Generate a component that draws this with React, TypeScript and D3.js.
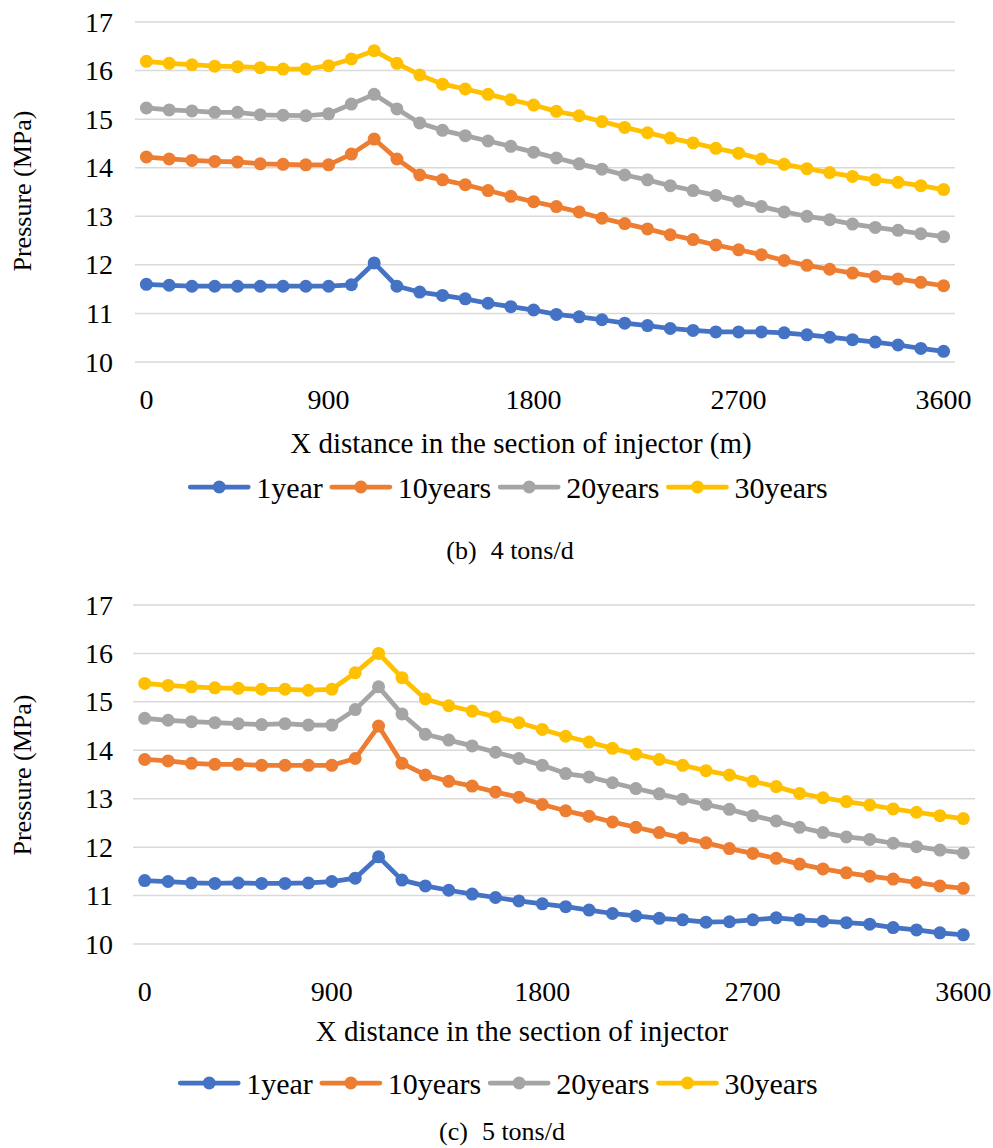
import React, { useEffect, useRef } from "react";
import * as d3 from "d3";

// X categories: distance along the injector section (m)
const distances = [0, 200, 300, 400, 500, 600, 700, 800, 900, 1000, 1100, 1200, 1300, 1400, 1500, 1600, 1700, 1800, 1900, 2000, 2100, 2200, 2300, 2400, 2500, 2600, 2700, 2800, 2900, 3000, 3100, 3200, 3300, 3400, 3500, 3600];
const xTickLabels = [0, 900, 1800, 2700, 3600];
const yTicks = [10, 11, 12, 13, 14, 15, 16, 17];
const seriesNames = ["1year", "10years", "20years", "30years"];
const seriesColors = ["#4472C4", "#ED7D31", "#A5A5A5", "#FFC000"];

// (b) 4 tons/d
const b1year = [11.60, 11.58, 11.56, 11.56, 11.56, 11.56, 11.56, 11.56, 11.56, 11.59, 12.04, 11.56, 11.44, 11.37, 11.30, 11.21, 11.14, 11.07, 10.98, 10.93, 10.87, 10.80, 10.75, 10.69, 10.65, 10.62, 10.62, 10.62, 10.60, 10.56, 10.51, 10.46, 10.41, 10.35, 10.28, 10.22];
const b10years = [14.22, 14.18, 14.15, 14.13, 14.12, 14.08, 14.07, 14.06, 14.06, 14.28, 14.59, 14.18, 13.85, 13.75, 13.65, 13.53, 13.41, 13.30, 13.20, 13.09, 12.96, 12.85, 12.74, 12.62, 12.52, 12.41, 12.31, 12.21, 12.09, 11.99, 11.91, 11.83, 11.76, 11.71, 11.64, 11.57];
const b20years = [15.23, 15.19, 15.17, 15.14, 15.14, 15.09, 15.08, 15.07, 15.11, 15.31, 15.51, 15.21, 14.92, 14.77, 14.66, 14.55, 14.44, 14.32, 14.20, 14.08, 13.97, 13.85, 13.75, 13.63, 13.53, 13.43, 13.31, 13.20, 13.09, 13.00, 12.93, 12.84, 12.77, 12.71, 12.64, 12.58];
const b30years = [16.19, 16.15, 16.12, 16.09, 16.08, 16.06, 16.03, 16.03, 16.10, 16.24, 16.41, 16.15, 15.91, 15.72, 15.62, 15.51, 15.40, 15.29, 15.16, 15.07, 14.95, 14.83, 14.72, 14.61, 14.51, 14.40, 14.30, 14.18, 14.07, 13.98, 13.90, 13.82, 13.75, 13.70, 13.63, 13.55];

// (c) 5 tons/d
const c1year = [11.31, 11.29, 11.26, 11.25, 11.26, 11.25, 11.25, 11.26, 11.29, 11.36, 11.80, 11.32, 11.20, 11.11, 11.03, 10.96, 10.89, 10.83, 10.77, 10.70, 10.63, 10.58, 10.53, 10.50, 10.45, 10.46, 10.50, 10.54, 10.50, 10.47, 10.44, 10.41, 10.34, 10.29, 10.23, 10.19];
const c10years = [13.81, 13.78, 13.73, 13.71, 13.71, 13.69, 13.69, 13.69, 13.69, 13.83, 14.50, 13.73, 13.49, 13.36, 13.26, 13.14, 13.03, 12.88, 12.75, 12.64, 12.52, 12.41, 12.30, 12.19, 12.09, 11.97, 11.87, 11.77, 11.65, 11.55, 11.47, 11.40, 11.34, 11.27, 11.20, 11.15];
const c20years = [14.66, 14.62, 14.59, 14.57, 14.55, 14.53, 14.55, 14.52, 14.52, 14.84, 15.31, 14.75, 14.33, 14.21, 14.09, 13.96, 13.83, 13.69, 13.52, 13.45, 13.33, 13.21, 13.10, 12.99, 12.88, 12.78, 12.65, 12.54, 12.41, 12.30, 12.21, 12.16, 12.08, 12.01, 11.94, 11.88];
const c30years = [15.38, 15.34, 15.31, 15.29, 15.28, 15.26, 15.26, 15.24, 15.26, 15.60, 16.00, 15.50, 15.06, 14.92, 14.81, 14.69, 14.57, 14.43, 14.29, 14.17, 14.04, 13.92, 13.81, 13.69, 13.58, 13.49, 13.36, 13.25, 13.11, 13.02, 12.94, 12.87, 12.79, 12.72, 12.65, 12.59];

const FONT = '"Liberation Serif", Tinos, "Times New Roman", "Nimbus Roman", "DejaVu Serif", serif';

const panels = [
  {
    left: 135, right: 955, top: 22, bottom: 362,
    tickLabelY: 399,
    xTitle: "X distance in the section of injector (m)", xTitleX: 521, xTitleY: 443,
    legendCX: 509, legendY: 487,
    captionTag: "(b)", captionText: "4 tons/d", captionX: 510, captionY: 550,
    yTitleY: 191,
    series: [b1year, b10years, b20years, b30years],
  },
  {
    left: 133, right: 975, top: 605, bottom: 944,
    tickLabelY: 991,
    xTitle: "X distance in the section of injector", xTitleX: 522, xTitleY: 1031,
    legendCX: 499, legendY: 1083,
    captionTag: "(c)", captionText: "5 tons/d", captionX: 502, captionY: 1131,
    yTitleY: 775,
    series: [c1year, c10years, c20years, c30years],
  },
];

export default function App() {
  const ref = useRef<SVGSVGElement>(null);

  useEffect(() => {
    const svg = d3.select(ref.current);
    svg.selectAll("*").remove();
    svg.style("font-family", FONT);

    panels.forEach((p) => {
      const g = svg.append("g").style("font-family", FONT);
      const x = d3.scalePoint<number>().domain(distances).range([p.left, p.right]).padding(0.5);
      const y = d3.scaleLinear().domain([10, 17]).range([p.bottom, p.top]);

      g.selectAll("line.grid").data(yTicks).join("line")
        .attr("x1", p.left).attr("x2", p.right)
        .attr("y1", (d) => y(d)).attr("y2", (d) => y(d))
        .attr("stroke", "#D9D9D9").attr("stroke-width", 1.5);

      g.selectAll("text.yt").data(yTicks).join("text")
        .attr("x", 113).attr("y", (d) => y(d))
        .attr("text-anchor", "end").attr("dominant-baseline", "central")
        .style("font-size", "28px").attr("fill", "#000")
        .text((d) => String(d));

      g.selectAll("text.xt").data(xTickLabels).join("text")
        .attr("x", (d) => x(d) as number).attr("y", p.tickLabelY)
        .attr("text-anchor", "middle").attr("dominant-baseline", "central")
        .style("font-size", "28px").attr("fill", "#000")
        .text((d) => String(d));

      g.append("text")
        .attr("transform", `translate(22,${p.yTitleY}) rotate(-90)`)
        .attr("text-anchor", "middle").attr("dominant-baseline", "central")
        .style("font-size", "26px")
        .text("Pressure (MPa)");

      g.append("text")
        .attr("x", p.xTitleX).attr("y", p.xTitleY)
        .attr("text-anchor", "middle").attr("dominant-baseline", "central")
        .style("font-size", "29px")
        .text(p.xTitle);

      const line = d3.line<number>().x((_, i) => x(distances[i]) as number).y((d) => y(d));
      p.series.forEach((vals, si) => {
        g.append("path").datum(vals)
          .attr("d", line).attr("fill", "none")
          .attr("stroke", seriesColors[si]).attr("stroke-width", 4.75)
          .attr("stroke-linejoin", "round").attr("stroke-linecap", "round");
        g.selectAll(`circle.s${si}`).data(vals).join("circle")
          .attr("cx", (_, i) => x(distances[i]) as number).attr("cy", (d) => y(d))
          .attr("r", 6.5).attr("fill", seriesColors[si]);
      });

      const lg = g.append("g");
      let cursor = 0;
      const lineLen = 58;
      const gap = 8;
      const itemGap = 9;
      seriesNames.forEach((name, si) => {
        const item = lg.append("g").attr("transform", `translate(${cursor},0)`);
        item.append("line").attr("x1", 0).attr("x2", lineLen).attr("y1", 0).attr("y2", 0)
          .attr("stroke", seriesColors[si]).attr("stroke-width", 4.75).attr("stroke-linecap", "round");
        item.append("circle").attr("cx", lineLen / 2).attr("cy", 0).attr("r", 6.5).attr("fill", seriesColors[si]);
        const t = item.append("text").attr("x", lineLen + gap).attr("y", 0)
          .attr("dominant-baseline", "central")
          .style("font-size", "30px").text(name);
        const w = (t.node() as SVGTextElement).getComputedTextLength();
        cursor += lineLen + gap + w + itemGap;
      });
      const total = cursor - itemGap;
      lg.attr("transform", `translate(${p.legendCX - total / 2},${p.legendY})`);

      const cap = g.append("text")
        .attr("x", p.captionX).attr("y", p.captionY)
        .attr("text-anchor", "middle").attr("dominant-baseline", "central")
        .style("font-size", "26px");
      cap.append("tspan").text(p.captionTag);
      cap.append("tspan").attr("dx", 14).text(p.captionText);
    });
  }, []);

  return (
    <svg
      ref={ref}
      width={993}
      height={1148}
      style={{ position: "absolute", left: 0, top: 0, background: "#fff" }}
    />
  );
}
